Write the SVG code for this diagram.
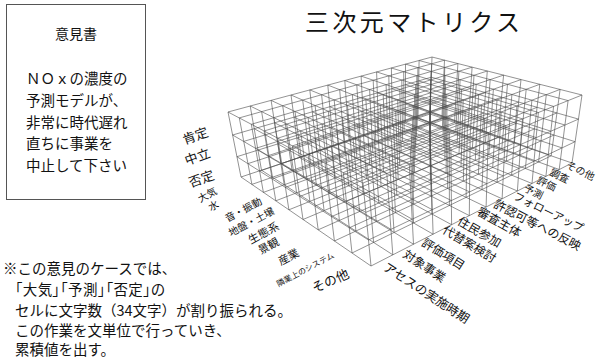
<svg xmlns="http://www.w3.org/2000/svg" width="597" height="359" viewBox="0 0 597 359">
<style>
text{font-family:"Noto Sans CJK JP","Noto Sans CJK SC",sans-serif;fill:#111}
.g path{fill:none;stroke:#4a4a4a;stroke-width:0.6}
.lab{font-size:11px;text-anchor:middle;dominant-baseline:central}
.lv{font-size:13px;text-anchor:middle;dominant-baseline:central}
.palt{font-feature-settings:"palt"}
</style>
<rect x="0" y="0" width="597" height="359" fill="#fff"/>
<g id="opinion">
<rect x="6.5" y="4.5" width="139" height="195" fill="none" stroke="#555" stroke-width="1"/>
<text x="76" y="39" font-size="14" text-anchor="middle">意見書</text>
<text x="26" y="84" font-size="14.5">ＮＯｘの濃度の</text>
<text x="26" y="106" font-size="14.5">予測モデルが、</text>
<text x="26" y="128" font-size="14.5">非常に時代遅れ</text>
<text x="26" y="149" font-size="14.5">直ちに事業を</text>
<text x="26" y="171" font-size="14.5">中止して下さい</text>
</g>
<text x="305" y="31" font-size="24" textLength="215" lengthAdjust="spacing">三次元マトリクス</text>
<g id="note" font-size="14.5">
<text x="3" y="274">※この意見のケースでは、</text>
<text x="15" y="295" class="palt" textLength="150" lengthAdjust="spacing">「大気」「予測」「否定」の</text>
<text x="15" y="316">セルに文字数（34文字）が割り振られる。</text>
<text x="15" y="336">この作業を文単位で行っていき、</text>
<text x="15" y="355">累積値を出す。</text>
</g>
<g class="g" id="grid">
<path id="ulines" d="M371 266L241 177M392.8 254.8L261.5 170.2M413.5 244.2L281 163.7M433.1 234.2L299.4 157.5M451.6 224.7L316.8 151.7M469.3 215.6L333.4 146.2M486.1 207L349.2 140.9M502.1 198.8L364.3 135.9M517.4 191L378.6 131.1M532 183.5L392.4 126.5M545.9 176.4L405.4 122.2M559.2 169.5L418 118M572 163L430 114
M368.5 240L236.9 156.7M390.9 229.3L258 150.1M412.2 219.2L277.9 143.9M432.3 209.7L296.8 137.9M451.4 200.6L314.6 132.4M469.6 191.9L331.6 127.1M486.8 183.7L347.8 122M503.3 175.9L363.3 117.2M519 168.4L378 112.6M534 161.3L392.1 108.2M548.3 154.5L405.4 104M562 147.9L418.3 100M575.1 141.7L430.6 96.2
M365.8 212.4L232.6 135M388.9 202.2L254.2 128.7M410.8 192.6L274.6 122.8M431.5 183.6L294 117.1M451.1 175L312.3 111.8M469.8 166.8L329.8 106.7M487.6 158.9L346.4 101.9M504.6 151.5L362.2 97.3M520.7 144.4L377.3 92.9M536.1 137.6L391.8 88.7M550.9 131.2L405.5 84.7M564.9 125L418.7 80.9M578.5 119.1L431.3 77.2
M363 183L228 112M386.8 173.4L250.2 106M409.3 164.4L271.1 100.4M430.6 155.8L291 95M450.9 147.7L309.8 89.9M470.1 140L327.8 85.1M488.4 132.6L344.8 80.5M505.9 125.6L361.1 76.1M522.5 118.9L376.6 71.9M538.4 112.5L391.4 68M553.6 106.4L405.5 64.1M568.1 100.6L419.1 60.5M582 95L432 57"/>
<path id="vlines" d="M371 266L572 163M352 253L551.2 155.8M334.4 241L532.1 149.2M318.2 229.8L514.3 143.1M303 219.5L497.7 137.4M288.9 209.8L482.4 132.1M275.8 200.8L468 127.1M263.4 192.4L454.5 122.5M251.9 184.4L441.9 118.1M241 177L430 114
M368.5 240L575.1 141.7M349.3 227.8L554 135M331.5 216.6L534.5 128.9M315 206.1L516.4 123.2M299.7 196.5L499.5 117.9M285.4 187.4L483.9 113M272.1 179L469.3 108.4M259.6 171.1L455.6 104.1M248 163.6L442.7 100M236.9 156.7L430.6 96.2
M365.8 212.4L578.5 119.1M346.4 201.1L556.9 112.9M328.3 190.6L537.1 107.3M311.7 180.9L518.6 102.1M296.2 172L501.5 97.2M281.7 163.5L485.6 92.6M268.2 155.7L470.6 88.4M255.6 148.4L456.7 84.5M243.8 141.4L443.6 80.7M232.6 135L431.3 77.2
M363 183L582 95M343.3 172.6L560.1 89.4M325 163L539.8 84.3M308.1 154.1L521 79.6M292.4 145.9L503.6 75.1M277.8 138.2L487.3 71M264.1 131L472.1 67.2M251.3 124.3L457.9 63.6M239.3 117.9L444.5 60.2M228 112L432 57"/>
<path id="verticals" d="M371 266L363 183M352 253L343.3 172.6M334.4 241L325 163M318.2 229.8L308.1 154.1M303 219.5L292.4 145.9M288.9 209.8L277.8 138.2M275.8 200.8L264.1 131M263.4 192.4L251.3 124.3M251.9 184.4L239.3 117.9M241 177L228 112
M392.8 254.8L386.8 173.4M373.6 242.4L366.8 163.5M355.9 231L348.4 154.4M339.4 220.4L331.3 146M324.1 210.6L315.4 138.2M309.9 201.4L300.6 130.9M296.6 192.8L286.7 124M284.2 184.8L273.8 117.6M272.5 177.3L261.6 111.6M261.5 170.2L250.2 106
M413.5 244.2L409.3 164.4M394.1 232.4L389.1 155M376.2 221.6L370.4 146.4M359.6 211.5L353.1 138.4M344.2 202.1L337 130.9M329.9 193.4L322.1 124M316.4 185.2L308.1 117.5M303.9 177.6L295 111.4M292.1 170.4L282.7 105.8M281 163.7L271.1 100.4
M433.1 234.2L430.6 155.8M413.6 223L410.2 146.9M395.5 212.6L391.3 138.7M378.8 203L373.9 131.1M363.2 194.1L357.6 124M348.7 185.8L342.5 117.4M335.2 178L328.3 111.3M322.5 170.7L315.1 105.5M310.6 163.9L302.7 100.1M299.4 157.5L291 95
M451.6 224.7L450.9 147.7M431.9 214L430.3 139.2M413.7 204.2L411.2 131.4M396.8 195L393.5 124.2M381.1 186.5L377.1 117.5M366.5 178.6L361.8 111.2M352.8 171.2L347.5 105.4M340.1 164.3L334.2 99.9M328.1 157.8L321.6 94.7M316.8 151.7L309.8 89.9
M469.3 215.6L470.1 140M449.4 205.5L449.3 132M431.1 196.1L430.1 124.6M414.1 187.4L412.3 117.7M398.2 179.3L395.7 111.3M383.5 171.8L380.3 105.3M369.7 164.8L365.9 99.8M356.9 158.2L352.4 94.6M344.8 152L339.7 89.7M333.4 146.2L327.8 85.1
M486.1 207L488.4 132.6M466.1 197.3L467.4 125M447.6 188.4L448 117.9M430.4 180.1L430 111.4M414.5 172.4L413.3 105.4M399.7 165.3L397.7 99.7M385.8 158.6L383.2 94.4M372.8 152.3L369.6 89.5M360.6 146.4L356.8 84.9M349.2 140.9L344.8 80.5
M502.1 198.8L505.9 125.6M482 189.6L484.7 118.4M463.3 181.1L465.2 111.7M446.1 173.2L447 105.5M430 165.9L430.2 99.7M415.1 159.1L414.5 94.4M401.1 152.7L399.8 89.3M388.1 146.8L386.1 84.6M375.8 141.2L373.2 80.2M364.3 135.9L361.1 76.1
M517.4 191L522.5 118.9M497.1 182.2L501.2 112M478.4 174.2L481.5 105.7M461 166.7L463.2 99.8M444.8 159.7L446.2 94.3M429.8 153.2L430.4 89.2M415.7 147.1L415.6 84.5M402.6 141.4L401.8 80M390.2 136.1L388.8 75.8M378.6 131.1L376.6 71.9
M532 183.5L538.4 112.5M511.6 175.2L516.9 106M492.7 167.5L497 100M475.3 160.3L478.6 94.4M459 153.7L461.5 89.2M443.9 147.5L445.6 84.4M429.7 141.7L430.7 79.9M416.5 136.3L416.8 75.7M404.1 131.3L403.7 71.7M392.4 126.5L391.4 68
M545.9 176.4L553.6 106.4M525.4 168.5L531.9 100.2M506.4 161.2L511.9 94.5M488.8 154.4L493.4 89.2M472.4 148.1L476.2 84.3M457.2 142.2L460.1 79.7M443 136.7L445.1 75.4M429.6 131.6L431.1 71.4M417.1 126.7L417.9 67.6M405.4 122.2L405.5 64.1
M559.2 169.5L568.1 100.6M538.6 162L546.3 94.7M519.5 155L526.2 89.3M501.8 148.6L507.5 84.3M485.4 142.6L490.2 79.6M470.1 137L474 75.3M455.8 131.8L458.9 71.2M442.4 126.9L444.8 67.4M429.8 122.3L431.6 63.9M418 118L419.1 60.5
M572 163L582 95M551.2 155.8L560.1 89.4M532.1 149.2L539.8 84.3M514.3 143.1L521 79.6M497.7 137.4L503.6 75.1M482.4 132.1L487.3 71M468 127.1L472.1 67.2M454.5 122.5L457.9 63.6M441.9 118.1L444.5 60.2M430 114L432 57"/>
</g>
<g id="levels" class="lv">
<text transform="translate(195,135) rotate(-20)">肯定</text>
<text transform="translate(197,156) rotate(-20)">中立</text>
<text transform="translate(201,178) rotate(-20)">否定</text>
</g>
<g id="leftlabels" class="lab">
<text transform="translate(207,194) rotate(-28)" font-size="10">大気</text>
<text transform="translate(213,205) rotate(-28)" font-size="10">水</text>
<text transform="translate(243,209) rotate(-28)" font-size="10">音・振動</text>
<text transform="translate(251,221) rotate(-28)" font-size="10">地盤・土壌</text>
<text transform="translate(263,232) rotate(-28)">生態系</text>
<text transform="translate(268,245) rotate(-28)">景観</text>
<text transform="translate(288,256) rotate(-28)">産業</text>
<text transform="translate(305,269) rotate(-28)" font-size="8">隣業上のシステム</text>
<text transform="translate(330,280) rotate(-24)" font-size="13">その他</text>
</g>
<g id="rightlabels" class="lab">
<text transform="translate(427,292) rotate(33)" font-size="12.5">アセスの実施時期</text>
<text transform="translate(425,265) rotate(33)" font-size="12">対象事業</text>
<text transform="translate(444,253) rotate(32)" font-size="12">評価項目</text>
<text transform="translate(470,243) rotate(31)" font-size="12">代替案検討</text>
<text transform="translate(480,231) rotate(30)" font-size="12">住民参加</text>
<text transform="translate(500,221) rotate(29)" font-size="12">審査主体</text>
<text transform="translate(538,224) rotate(27)" font-size="12">許認可等への反映</text>
<text transform="translate(549,211) rotate(26)" font-size="11">フォローアップ</text>
<text transform="translate(534,191) rotate(26)" font-size="10">予測</text>
<text transform="translate(547,183) rotate(26)" font-size="10">評価</text>
<text transform="translate(560,175) rotate(26)" font-size="10">調査</text>
<text transform="translate(581,170) rotate(26)" font-size="10">その他</text>
</g>
</svg>
